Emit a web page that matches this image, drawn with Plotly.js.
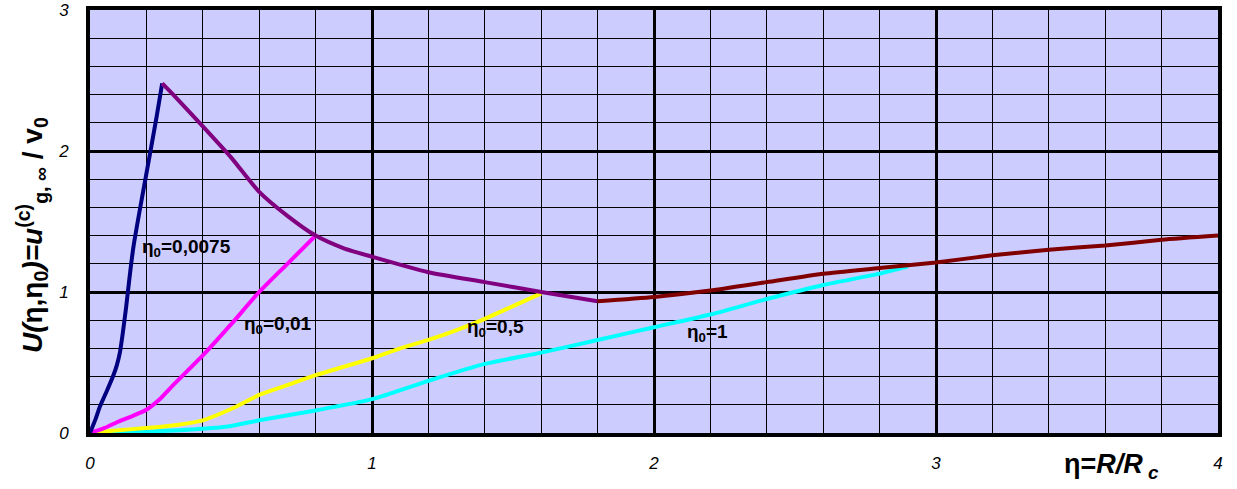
<!DOCTYPE html>
<html>
<head>
<meta charset="utf-8">
<script src="https://cdn.plot.ly/plotly-3.0.1.min.js"></script>
<style>html,body{margin:0;padding:0;background:#fff;}#chart{width:1237px;height:489px;}</style>
</head>
<body>
<div id="chart"></div>
<script>
// eta0 = 0.0075 (rising branch)
const navyX = [0, 0.02, 0.035, 0.06, 0.083, 0.095, 0.106, 0.117, 0.128, 0.14, 0.154, 0.18, 0.2, 0.236, 0.256];
const navyY = [0, 0.1, 0.187, 0.3, 0.41, 0.48, 0.57, 0.72, 0.89, 1.1, 1.32, 1.62, 1.84, 2.24, 2.48];
// envelope, decreasing part
const purpleX = [0.256, 0.3, 0.4, 0.5, 0.6, 0.7, 0.8, 0.9, 1.0, 1.2, 1.4, 1.6, 1.8];
const purpleY = [2.48, 2.39, 2.175, 1.955, 1.71, 1.54, 1.40, 1.31, 1.25, 1.14, 1.07, 1.0, 0.935];
// envelope, increasing part
const redX = [1.8, 2.0, 2.2, 2.4, 2.6, 2.8, 3.0, 3.2, 3.4, 3.6, 3.8, 4.0];
const redY = [0.935, 0.965, 1.01, 1.07, 1.13, 1.17, 1.21, 1.26, 1.30, 1.33, 1.37, 1.40];
// eta0 = 0.01
const magentaX = [0, 0.05, 0.1, 0.15, 0.2, 0.25, 0.3, 0.4, 0.5, 0.6, 0.7, 0.8];
const magentaY = [0, 0.035, 0.08, 0.12, 0.165, 0.245, 0.35, 0.55, 0.77, 1.0, 1.2, 1.4];
// eta0 = 0.5
const yellowX = [0, 0.1, 0.2, 0.3, 0.4, 0.5, 0.6, 0.7, 0.8, 0.9, 1.0, 1.1, 1.2, 1.3, 1.4, 1.5, 1.6];
const yellowY = [0, 0.02, 0.035, 0.055, 0.09, 0.17, 0.27, 0.34, 0.41, 0.47, 0.53, 0.60, 0.66, 0.73, 0.81, 0.90, 0.99];
// eta0 = 1
const cyanX = [0, 0.2, 0.4, 0.5, 0.6, 0.8, 1.0, 1.2, 1.4, 1.6, 1.8, 2.0, 2.2, 2.4, 2.6, 2.8, 2.9];
const cyanY = [0, 0.01, 0.03, 0.05, 0.09, 0.16, 0.24, 0.37, 0.49, 0.57, 0.66, 0.75, 0.84, 0.95, 1.05, 1.13, 1.18];

const labelText = ['η<sub>0</sub>=0,0075', 'η<sub>0</sub>=0,01', 'η<sub>0</sub>=0,5', 'η<sub>0</sub>=1'];
const labelX = [0.177, 0.54, 1.33, 2.11];
const labelY = [1.31, 0.766, 0.745, 0.71];

const xTicks = [0, 1, 2, 3, 4];
const yTicks = [0, 1, 2, 3];

const FONT = 'Liberation Sans, Arial, sans-serif';

function line(x, y, color) {
  return {x: x, y: y, type: 'scatter', mode: 'lines',
    line: {color: color, width: 4, shape: 'spline', smoothing: 0.6},
    hoverinfo: 'skip', showlegend: false};
}

const traces = [
  line(cyanX, cyanY, '#00FFFF'),
  line(yellowX, yellowY, '#FFFF00'),
  line(magentaX, magentaY, '#FF00FF'),
  line(navyX, navyY, '#000080'),
  line(purpleX, purpleY, '#800080'),
  line(redX, redY, '#800000')
];

const annotations = labelText.map((t, i) => ({
  x: labelX[i], y: labelY[i], xref: 'x', yref: 'y', text: '<b>' + t + '</b>',
  showarrow: false, xanchor: 'left', yanchor: 'middle',
  font: {family: FONT, size: 19, color: '#000'}
}));
// x-axis title (placed at the right, as in the reference)
annotations.push({
  x: 0.8614, y: -0.078, xref: 'paper', yref: 'paper',
  text: '<b>η=<i>R/R</i><sub><i> c</i></sub></b>',
  showarrow: false, xanchor: 'left', yanchor: 'middle',
  font: {family: FONT, size: 27, color: '#000'}
});
// y-axis title
annotations.push({
  x: -0.0514, y: 0.468, xref: 'paper', yref: 'paper', textangle: -90,
  text: '<b><i>U(</i>η,η<sub>0</sub><i>)=u</i><sup>(c)</sup><sub>g, ∞</sub> / v<sub>0</sub></b>',
  showarrow: false, xanchor: 'center', yanchor: 'middle',
  font: {family: FONT, size: 28, color: '#000'}
});

const layout = {
  width: 1237, height: 489,
  margin: {l: 90, r: 19, t: 10, b: 56},
  paper_bgcolor: '#ffffff',
  plot_bgcolor: '#CCCCFF',
  font: {family: FONT, color: '#000'},
  xaxis: {
    range: [0, 4], tickvals: xTicks, ticktext: xTicks.map(String),
    showgrid: true, gridcolor: '#000', gridwidth: 3,
    minor: {dtick: 0.2, showgrid: true, gridcolor: '#000', gridwidth: 1},
    showline: true, linecolor: '#000', linewidth: 4, mirror: true,
    ticks: '', ticklabelstandoff: 12, zeroline: false,
    tickfont: {family: FONT, size: 17, style: 'italic'},
    fixedrange: true
  },
  yaxis: {
    range: [0, 3], tickvals: yTicks, ticktext: yTicks.map(String),
    showgrid: true, gridcolor: '#000', gridwidth: 3,
    minor: {dtick: 0.2, showgrid: true, gridcolor: '#000', gridwidth: 1},
    showline: true, linecolor: '#000', linewidth: 4, mirror: true,
    ticks: '', ticklabelstandoff: 14, zeroline: false,
    tickfont: {family: FONT, size: 17, style: 'italic'},
    fixedrange: true
  },
  annotations: annotations,
  showlegend: false
};

Plotly.newPlot('chart', traces, layout, {displayModeBar: false, staticPlot: true});
</script>
</body>
</html>
